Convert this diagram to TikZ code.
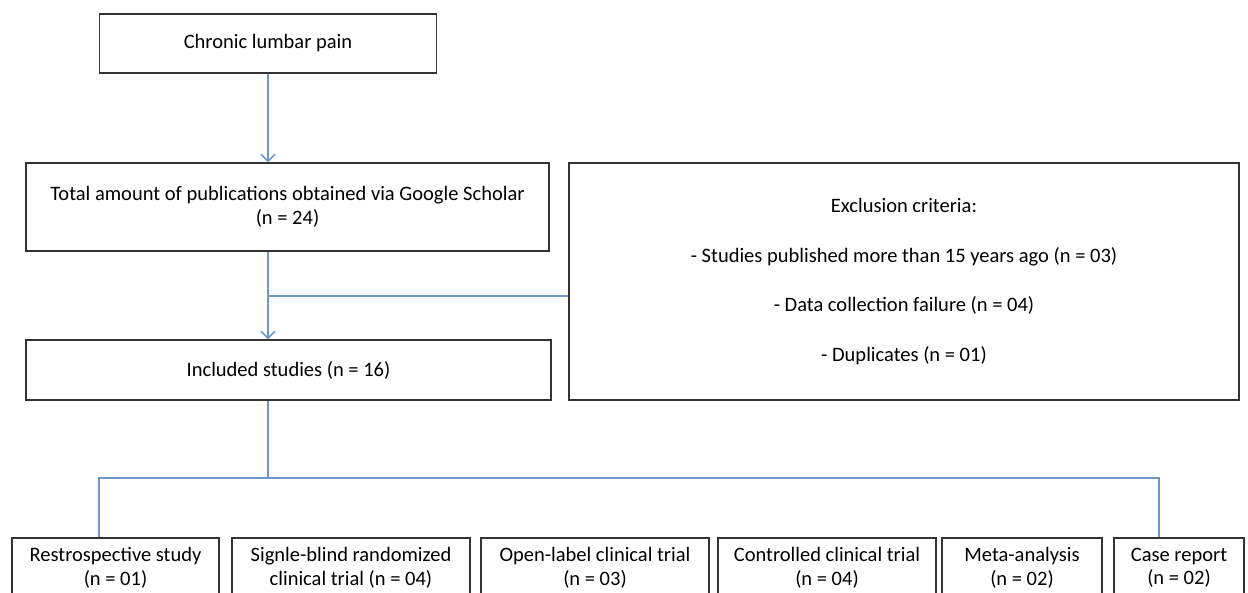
\documentclass[tikz,border=0pt]{standalone}
\usepackage{fontspec}
\setmainfont{Carlito}
\usetikzlibrary{arrows.meta,calc}
\definecolor{linkblue}{HTML}{6E97CB}
\definecolor{boxgray}{HTML}{333333}

\begin{document}
\begin{tikzpicture}[x=0.03cm,y=-0.03cm,
        box/.style={draw=boxgray,line width=1.2pt,align=center,inner sep=0pt,
            font=\fontsize{17.5}{20}\selectfont},
        link/.style={draw=linkblue,line width=1.3pt},
        >={Straight Barb[length=6pt,width=12pt]}]
        \useasboundingbox (0,0) rectangle (1248,593);
        \clip (0,0) rectangle (1248,593);

        \node[box,minimum width=337*0.03cm,minimum height=59*0.03cm](chronic)at(268,43.5){Chronic lumbar pain};
        \node[box,minimum width=523*0.03cm,minimum height=88*0.03cm](total)at(287.5,207){Total amount of publications obtained via Google Scholar\\(n = 24)};
        \node[box,minimum width=670*0.03cm,minimum height=237*0.03cm](excl)at(904,281.5){Exclusion criteria:\\[22.5pt]- Studies published more than 15 years ago (n = 03)\\[22.5pt]- Data collection failure (n = 04)\\[22.5pt]- Duplicates (n = 01)};
        \node[box,minimum width=525*0.03cm,minimum height=60*0.03cm](incl)at(288.5,370){Included studies (n = 16)};

        % bottom row
        \node[box,minimum width=207*0.03cm,minimum height=60*0.03cm](retro)at(115.5,568){Restrospective study\\(n = 01)};
        \node[box,minimum width=238*0.03cm,minimum height=60*0.03cm](blind)at(351,568){Signle-blind randomized\\clinical trial (n = 04)};
        \node[box,minimum width=228*0.03cm,minimum height=60*0.03cm](open)at(595,568){Open-label clinical trial\\(n = 03)};
        \node[box,minimum width=218*0.03cm,minimum height=60*0.03cm](ctrl)at(827,568){Controlled clinical trial\\(n = 04)};
        \node[box,minimum width=160*0.03cm,minimum height=60*0.03cm](meta)at(1022,568){Meta-analysis\\(n = 02)};
        \node[box,minimum width=130*0.03cm,minimum height=60*0.03cm](case)at(1179,568){Case report\\(n = 02)};

        \draw[link,->](chronic.south)--(chronic.south|-total.north);
        \draw[link,->](total.south-|chronic.south)--(incl.north-|chronic.south);
        \coordinate(mid)at($(total.south-|chronic.south)!0.5!(incl.north-|chronic.south)+(0,0.5)$);
        \draw[link](mid)--(excl.west|-mid);

        \coordinate(split)at(268,478);
        \draw[link](incl.south-|chronic.south)--(split);
        \draw[link](split)-|([xshift=-16.5*0.03cm]retro.north);
        \draw[link](split)-|([xshift=-20*0.03cm]case.north);
    \end{tikzpicture}
\end{document}
